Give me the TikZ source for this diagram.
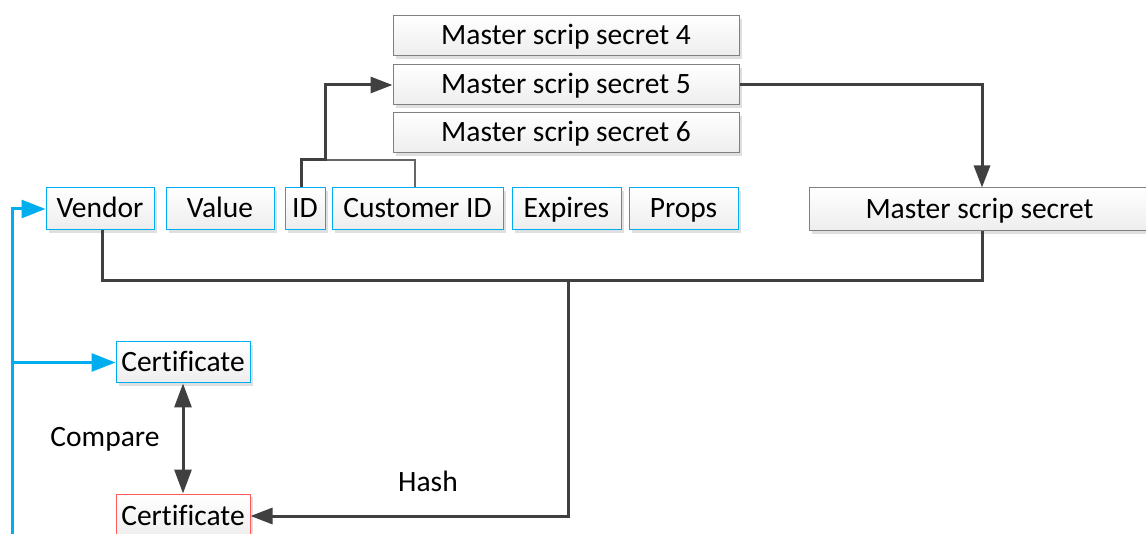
\documentclass[tikz,border=0pt]{standalone}
\usepackage{fontspec}
\setmainfont{Carlito}[Ligatures=NoCommon]
\usetikzlibrary{arrows.meta,shadows}
\definecolor{cyanline}{RGB}{0,174,239}
\definecolor{darkline}{RGB}{64,64,64}
\definecolor{boxgray}{RGB}{128,128,128}
\definecolor{redline}{RGB}{255,90,90}
\begin{document}
\begin{tikzpicture}[x=1pt,y=-1pt,
  font=\fontsize{29.5}{34}\selectfont,
  basebox/.style={rectangle, inner sep=0pt, text height=21pt, text depth=3pt,
    top color=white, bottom color=gray!14,
    drop shadow={shadow xshift=3pt, shadow yshift=-3pt, opacity=0.25, fill=gray}},
  graybox/.style={basebox, draw=boxgray, line width=1pt},
  bluebox/.style={basebox, draw=cyanline, line width=1pt},
  redbox/.style={basebox, draw=redline, line width=1pt},
  thick line/.style={draw=darkline, line width=3pt},
  thin line/.style={draw=darkline!80, line width=1.4pt},
  dark tip/.style={-{Triangle[length=22pt,width=16pt]}},
  both tips/.style={{Triangle[length=24pt,width=17pt]}-{Triangle[length=24pt,width=17pt]}},
  blue tip/.style={-{Triangle[length=24pt,width=18pt]}},
  blue line/.style={draw=cyanline, line width=3pt}]
\useasboundingbox (0,0) rectangle (1146,534);

% key selection boxes
\node[graybox, minimum width=346pt, minimum height=40pt] (m4) at (566,36) {Master scrip secret 4};
\node[graybox, minimum width=346pt, minimum height=40pt] (m5) at (566,85) {Master scrip secret 5};
\node[graybox, minimum width=346pt, minimum height=40pt] (m6) at (566,133) {Master scrip secret 6};

% scrip fields
\node[bluebox, minimum width=108pt, minimum height=42pt] (vendor) at (100,209) {Vendor};
\node[bluebox, minimum width=108pt, minimum height=42pt] (value) at (220,209) {Value};
\node[bluebox, minimum width=40pt, minimum height=42pt] (id) at (305,209) {ID};
\node[bluebox, minimum width=171pt, minimum height=42pt] (cust) at (417.5,209) {Customer ID};
\node[bluebox, minimum width=109pt, minimum height=42pt] (expires) at (566.5,209) {Expires};
\node[bluebox, minimum width=109pt, minimum height=42pt] (props) at (683.5,209) {Props};

\node[graybox, minimum width=341pt, minimum height=43pt] (master) at (979.5,209.5) {Master scrip secret};

% certificates
\node[bluebox, minimum width=134pt, minimum height=41pt] (cert1) at (183,362.5) {Certificate};
\node[redbox, minimum width=134pt, minimum height=44pt] (cert2) at (183,516) {Certificate};

% labels
\node (compare) at (105,439) {Compare};
\node (hash) at (428,481) {Hash};

% junctions
\coordinate (idknee) at (301,160);
\coordinate (idup) at (325,160);
\coordinate (merge) at (568,281);
\coordinate (bluebase) at (12,534);

% ID selects the master secret
\draw[thin line] (cust.north -| 415,0) |- (idup);
\draw[thick line, dark tip, line join=miter] (id.north -| idknee) -- (idknee) -- (idup) |- (m5.west);
\draw[thick line, dark tip] (m5.east) -| (master.north -| 982,0);

% hashing path
\draw[thick line] (vendor.south -| 102,0) |- (merge) -| (master.south -| 982,0);
\draw[thick line, dark tip] (merge) |- (cert2.east);

% comparison
\draw[thick line, both tips] (cert1.south) -- (cert2.north);

% scrip input
\draw[blue line, blue tip] (bluebase) |- (vendor.west);
\draw[blue line, blue tip] (bluebase) |- (cert1.west);
\end{tikzpicture}
\end{document}
